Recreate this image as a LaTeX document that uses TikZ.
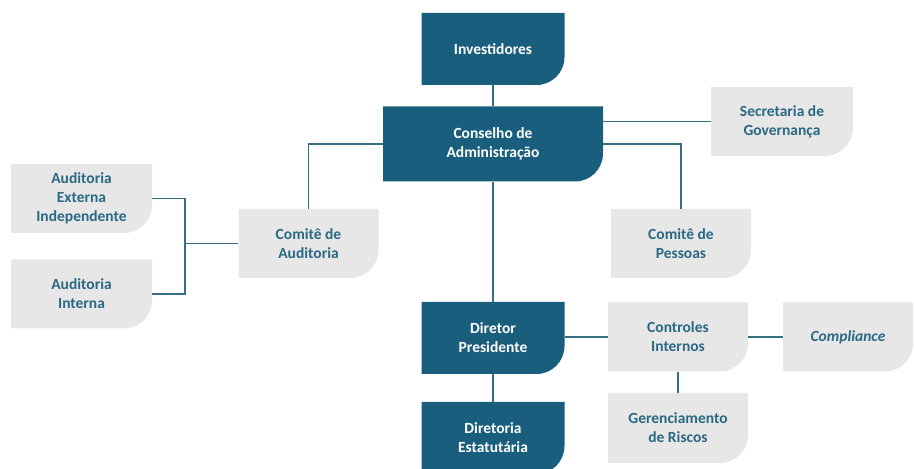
\documentclass[tikz,border=0pt]{standalone}
\usepackage{fontspec}
\setmainfont{Carlito}
\usepackage{tikz}

\definecolor{govblue}{RGB}{25,94,125}
\definecolor{govgray}{RGB}{231,231,231}
\definecolor{govtext}{RGB}{42,104,132}
\definecolor{govline}{RGB}{52,112,130}

\tikzset{
  cutbox/.style={
    minimum width=140pt,
    minimum height=69pt,
    align=center,
    font=\bfseries\fontsize{15.5}{19}\selectfont,
    path picture={
      \fill[#1]
      (path picture bounding box.north west)
      -- (path picture bounding box.north east)
      -- ([yshift=28pt]path picture bounding box.south east)
      arc[start angle=0, end angle=-90, radius=28pt]
      -- (path picture bounding box.south west)
      -- cycle;
    }},
  darkbox/.style={cutbox=govblue, text=white, minimum width=143pt, minimum height=72pt},
  lightbox/.style={cutbox=govgray, text=govtext},
  link/.style={draw=govline, line width=1.6pt},
}

\begin{document}
\begin{tikzpicture}[x=1pt, y=1pt]
\useasboundingbox (0,0) rectangle (914,469);

% board and executives
\node[darkbox] (inv) at (493,420) {Investidores};
\node[darkbox, minimum width=220pt, minimum height=75pt] (cons) at (493,325) {Conselho de\\Administração};
\node[darkbox] (dir) at (493,131) {Diretor\\Presidente};
\node[darkbox] (dest) at (493,31) {Diretoria\\Estatutária};

% committees and support
\node[lightbox, minimum width=142pt] (sec) at (782,347.5) {Secretaria de\\Governança};
\node[lightbox] (pes) at (681,225.5) {Comitê de\\Pessoas};
\node[lightbox] (aud) at (308.5,225.5) {Comitê de\\Auditoria};
\node[lightbox, minimum width=141pt] (ext) at (81.5,270.5) {Auditoria\\Externa\\Independente};
\node[lightbox, minimum width=141pt] (int) at (81.5,175) {Auditoria\\Interna};
\node[lightbox] (ctrl) at (678,132) {Controles\\Internos};
\node[lightbox, minimum width=130pt] (comp) at (848,132) {\itshape Compliance};
\node[lightbox, minimum height=70pt] (ger) at (678,41) {Gerenciamento\\de Riscos};

\coordinate (audjoin) at (185,225.5);

\draw[link] (inv) -- (cons);
\draw[link] (sec.west) -- (sec.west -| cons.east);
\draw[link] (cons.east) -| (pes.north);
\draw[link] (cons.west) -| (aud.north);
\draw[link] (ext.east) -| (audjoin) |- (int.east);
\draw[link] (aud.west) -- (audjoin);
\draw[link] (cons) -- (dir);
\draw[link] (dir) -- (dest);
\draw[link] (ctrl.west) -- (ctrl.west -| dir.east);
\draw[link] (ctrl.east) -- (comp.west);
\draw[link] (ctrl) -- (ger);
\end{tikzpicture}
\end{document}
